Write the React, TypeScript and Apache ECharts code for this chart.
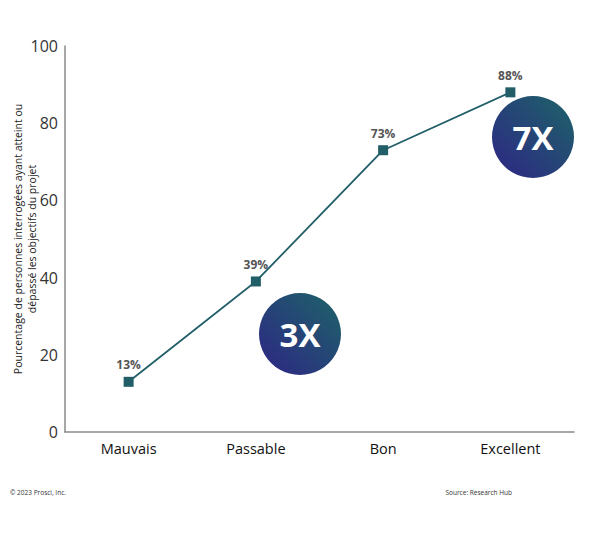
import { useEffect, useRef } from 'react';
import * as echarts from 'echarts';

const categories = ['Mauvais', 'Passable', 'Bon', 'Excellent'];
const values = [13, 39, 73, 88];
const yTicks = [0, 20, 40, 60, 80, 100];
const badges = ['3X', '7X'];

const TEAL = '#215e68';
const FONT = '"Open Sans", "Noto Sans", sans-serif';

function badge(text: string, cx: number, cy: number) {
  return {
    type: 'group',
    children: [
      {
        type: 'circle',
        shape: { cx, cy, r: 41 },
        style: {
          fill: new echarts.graphic.LinearGradient(1, 0, 0, 1, [
            { offset: 0, color: '#1d6468' },
            { offset: 1, color: '#2e2585' },
          ]),
        },
      },
      {
        type: 'text',
        x: cx,
        y: cy,
        style: {
          text,
          fill: '#fff',
          font: `bold 33px ${FONT}`,
          align: 'center',
          verticalAlign: 'middle',
        },
      },
    ],
  };
}

export default function App() {
  const ref = useRef<HTMLDivElement>(null);

  useEffect(() => {
    if (!ref.current) return;
    const chart = echarts.init(ref.current, undefined, { renderer: 'svg' });

    chart.setOption({
      animation: false,
      textStyle: { fontFamily: FONT },
      grid: { left: 65, right: 26, top: 46, bottom: 102, containLabel: false, outerBoundsMode: 'none' },
      xAxis: {
        type: 'category',
        data: categories,
        axisLine: { lineStyle: { color: '#8a8a8a', width: 1.5 } },
        axisTick: { show: false },
        axisLabel: { color: '#111', fontSize: 14.5, margin: 9 },
      },
      yAxis: {
        type: 'value',
        min: yTicks[0],
        max: yTicks[yTicks.length - 1],
        interval: 20,
        name: 'Pourcentage de personnes interrogées ayant atteint ou\ndépassé les objectifs du projet',
        nameLocation: 'middle',
        nameGap: 26,
        nameMoveOverlap: false,
        nameTextStyle: { color: '#222', fontSize: 10.5, lineHeight: 14 },
        axisLine: { show: true, lineStyle: { color: '#8a8a8a', width: 1.5 } },
        axisTick: { show: false },
        splitLine: { show: false },
        axisLabel: { color: '#333', fontSize: 16, margin: 7 },
      },
      series: [
        {
          type: 'line',
          data: values,
          symbol: 'rect',
          symbolSize: 10,
          lineStyle: { color: TEAL, width: 1.8 },
          itemStyle: { color: TEAL },
          label: {
            show: true,
            position: 'top',
            distance: 6,
            formatter: '{c}%',
            color: '#555',
            fontSize: 12,
            fontWeight: 'bold',
          },
        },
      ],
      graphic: [
        badge(badges[0], 300, 334),
        badge(badges[1], 533, 137),
        {
          type: 'text',
          left: 10,
          top: 489,
          style: { text: '© 2023 Prosci, Inc.', fill: '#333', font: `6.5px ${FONT}` },
        },
        {
          type: 'text',
          right: 88,
          top: 489,
          style: { text: 'Source: Research Hub', fill: '#333', font: `6.5px ${FONT}` },
        },
      ],
    });

    return () => chart.dispose();
  }, []);

  return <div ref={ref} style={{ width: 600, height: 534, margin: -8 }} />;
}
